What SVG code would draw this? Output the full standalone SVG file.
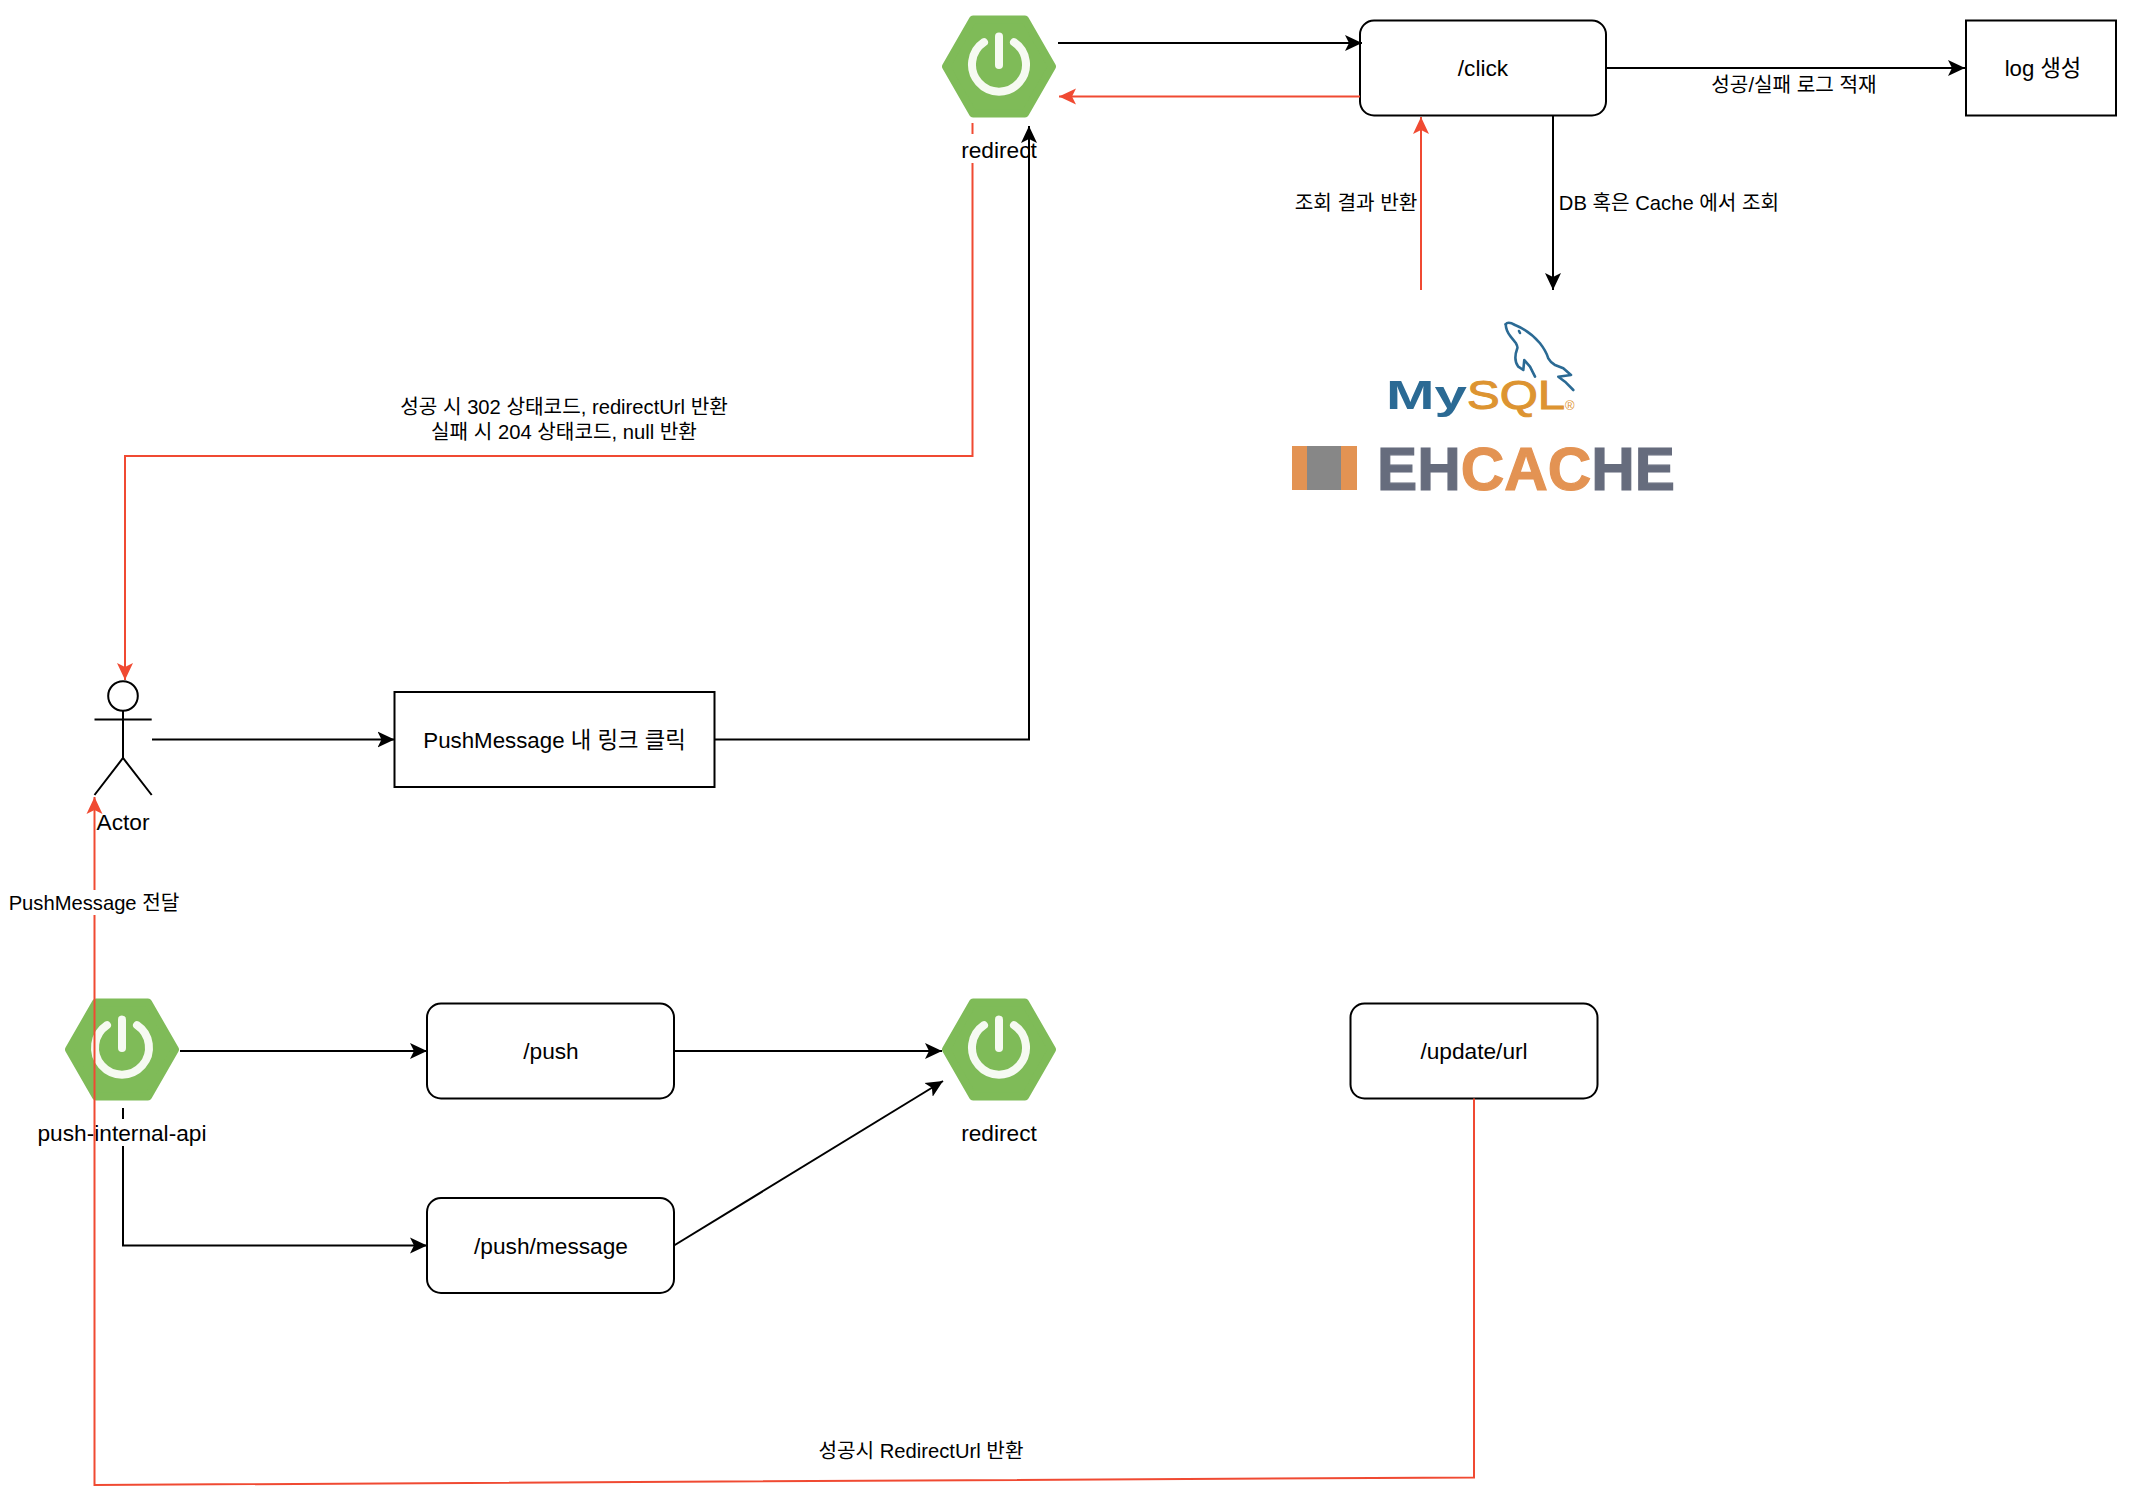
<svg xmlns="http://www.w3.org/2000/svg" width="2130" height="1506" viewBox="0 0 2130 1506">
<style>
text{font-family:"Liberation Sans","Noto Sans CJK KR",sans-serif;fill:#000}
.n{font-size:22.7px;text-anchor:middle}
.e{font-size:20.2px;text-anchor:middle}
.box{fill:#fff;stroke:#000;stroke-width:2}
.k{fill:none;stroke:#000;stroke-width:2}
.r{fill:none;stroke:#f04a32;stroke-width:2}
.ka{marker-end:url(#ah)}
.ra{marker-end:url(#rh)}
.line{fill:none;stroke:#000;stroke-width:2}
.hex{fill:#7fbb58;stroke:#7fbb58;stroke-width:8;stroke-linejoin:round}
.pw{fill:none;stroke:#f6faf2;stroke-width:8;stroke-linecap:round}
.dol{fill:none;stroke:#2b6a94;stroke-width:2.6;stroke-linejoin:round;stroke-linecap:round}
.grey{fill:#666c7d;stroke:#666c7d;stroke-width:1.2}
.org{fill:#e39353;stroke:#e39353;stroke-width:1.2}
</style>
<defs>
<marker id="ah" markerUnits="userSpaceOnUse" markerWidth="19" markerHeight="19" refX="17" refY="9" orient="auto"><path d="M0,1 L17,9 L0,17 L4,9 Z" fill="#000"/></marker>
<marker id="rh" markerUnits="userSpaceOnUse" markerWidth="19" markerHeight="19" refX="17" refY="9" orient="auto"><path d="M0,1 L17,9 L0,17 L4,9 Z" fill="#f04a32"/></marker>
<g id="spring">
<polygon class="hex" points="-53,0 -26,-47 26,-47 53,0 26,47 -26,47"/>
<path class="pw" d="M-15,-24.3 A27,27 0 1 0 15,-24.3"/>
<path class="pw" d="M0,-30 V-1.5"/>
</g>
</defs>

<g id="node-redirect-top"><use href="#spring" x="999" y="66.5"/><text class="n" x="999" y="158">redirect</text></g>
<g id="node-click"><rect class="box" x="1360" y="20.5" width="246" height="95" rx="14"/><text class="n" x="1483" y="76">/click</text></g>
<g id="node-log"><rect class="box" x="1966" y="20.5" width="150" height="95"/><text class="n" x="2043" y="75.5" style="font-size:22.2px">log 생성</text></g>
<g id="node-mysql">
<path class="dol" d="M1505.700,324.300 Q1508,321 1515,325 Q1530,331 1540,343.300 Q1546,351 1548.300,358.300 Q1551,363 1555,365 L1563.300,368.300 L1571,375 L1558.300,376.700 L1565,381.700 L1573.300,390"/>
<path class="dol" d="M1505.700,324.300 Q1506,331 1510.700,336.700 L1516,343.300 Q1518,347 1517.300,348.300 Q1513,360 1518.300,366.700 L1523.300,370 L1524.300,360 L1530,366.700 L1535,376.700"/>
<path class="dol" d="M1519,331 L1520,333"/>
<text x="1386" y="409" font-size="40" font-weight="bold" style="fill:#2b6a94" textLength="81" lengthAdjust="spacingAndGlyphs">My</text>
<text x="1467" y="409" font-size="40" style="fill:#dd9431;stroke:#dd9431;stroke-width:1" textLength="98" lengthAdjust="spacingAndGlyphs">SQL</text>
<text x="1565" y="410" font-size="13" style="fill:#dd9431">®</text>
</g>
<g id="node-ehcache">
<rect x="1292" y="446" width="65" height="44" fill="#e39353"/>
<rect x="1307" y="446" width="34" height="44" fill="#878787"/>
<text x="1377" y="490" font-size="61" font-weight="bold" textLength="298" lengthAdjust="spacingAndGlyphs" class="grey" style="fill:#666c7d">EH<tspan class="org" style="fill:#e39353">CAC</tspan>HE</text>
</g>
<g id="node-actor">
<circle class="line" cx="123" cy="696" r="14.800"/>
<path class="line" d="M123,711 V758 M94.500,719.500 H151.700 M94.500,795 L123,758 L151.700,795"/>
<text class="n" x="123" y="830">Actor</text>
</g>
<g id="node-link"><rect class="box" x="394.500" y="692" width="320" height="95"/><text class="n" x="554.500" y="748" style="font-size:22.3px">PushMessage 내 링크 클릭</text></g>
<g id="node-push-internal-api"><use href="#spring" x="122" y="1049.500"/><text class="n" x="122" y="1141">push-internal-api</text></g>
<g id="node-push"><rect class="box" x="427" y="1003.500" width="247" height="95" rx="14"/><text class="n" x="551" y="1059">/push</text></g>
<g id="node-push-message"><rect class="box" x="427" y="1198" width="247" height="95" rx="14"/><text class="n" x="551" y="1254">/push/message</text></g>
<g id="node-redirect-bottom"><use href="#spring" x="999" y="1049.500"/><text class="n" x="999" y="1141">redirect</text></g>
<g id="node-update-url"><rect class="box" x="1350.500" y="1003.500" width="247" height="95" rx="14"/><text class="n" x="1474" y="1059">/update/url</text></g>

<g id="connectors">
<path class="k ka" d="M1058,43 H1362"/>
<path class="r ra" d="M1360,96.500 H1059"/>
<path class="k ka" d="M1606,68 H1965"/>
<path class="k ka" d="M1553,115 V290"/>
<path class="r ra" d="M1421,290 V117"/>
<path class="r" d="M972.500,123 V134"/>
<path class="r ra" d="M972.500,163 V456 H125 V680"/>
<path class="k ka" d="M714.500,739.500 H1029 V126"/>
<path class="k ka" d="M152,739.500 H394.500"/>
<path class="k ka" d="M180,1051 H427"/>
<path class="k" d="M123,1108 V1119"/>
<path class="k ka" d="M123,1146 V1245.500 H427"/>
<path class="k ka" d="M674,1051 H942"/>
<path class="k ka" d="M674,1245.500 L943,1081"/>
<path class="r" d="M1474,1098.500 V1477.500 L94.500,1485 V915"/>
<path class="r ra" d="M94.500,890 V797"/>
<text class="e" x="1356" y="210">조회 결과 반환</text>
<text class="e" x="1669" y="210">DB 혹은 Cache 에서 조회</text>
<text class="e" x="1794" y="92">성공/실패 로그 적재</text>
<text class="e"><tspan x="564" y="414">성공 시 302 상태코드, redirectUrl 반환</tspan><tspan x="564" y="439">실패 시 204 상태코드, null 반환</tspan></text>
<text class="e" x="94" y="910">PushMessage 전달</text>
<text class="e" x="921" y="1458">성공시 RedirectUrl 반환</text>
</g>
</svg>
